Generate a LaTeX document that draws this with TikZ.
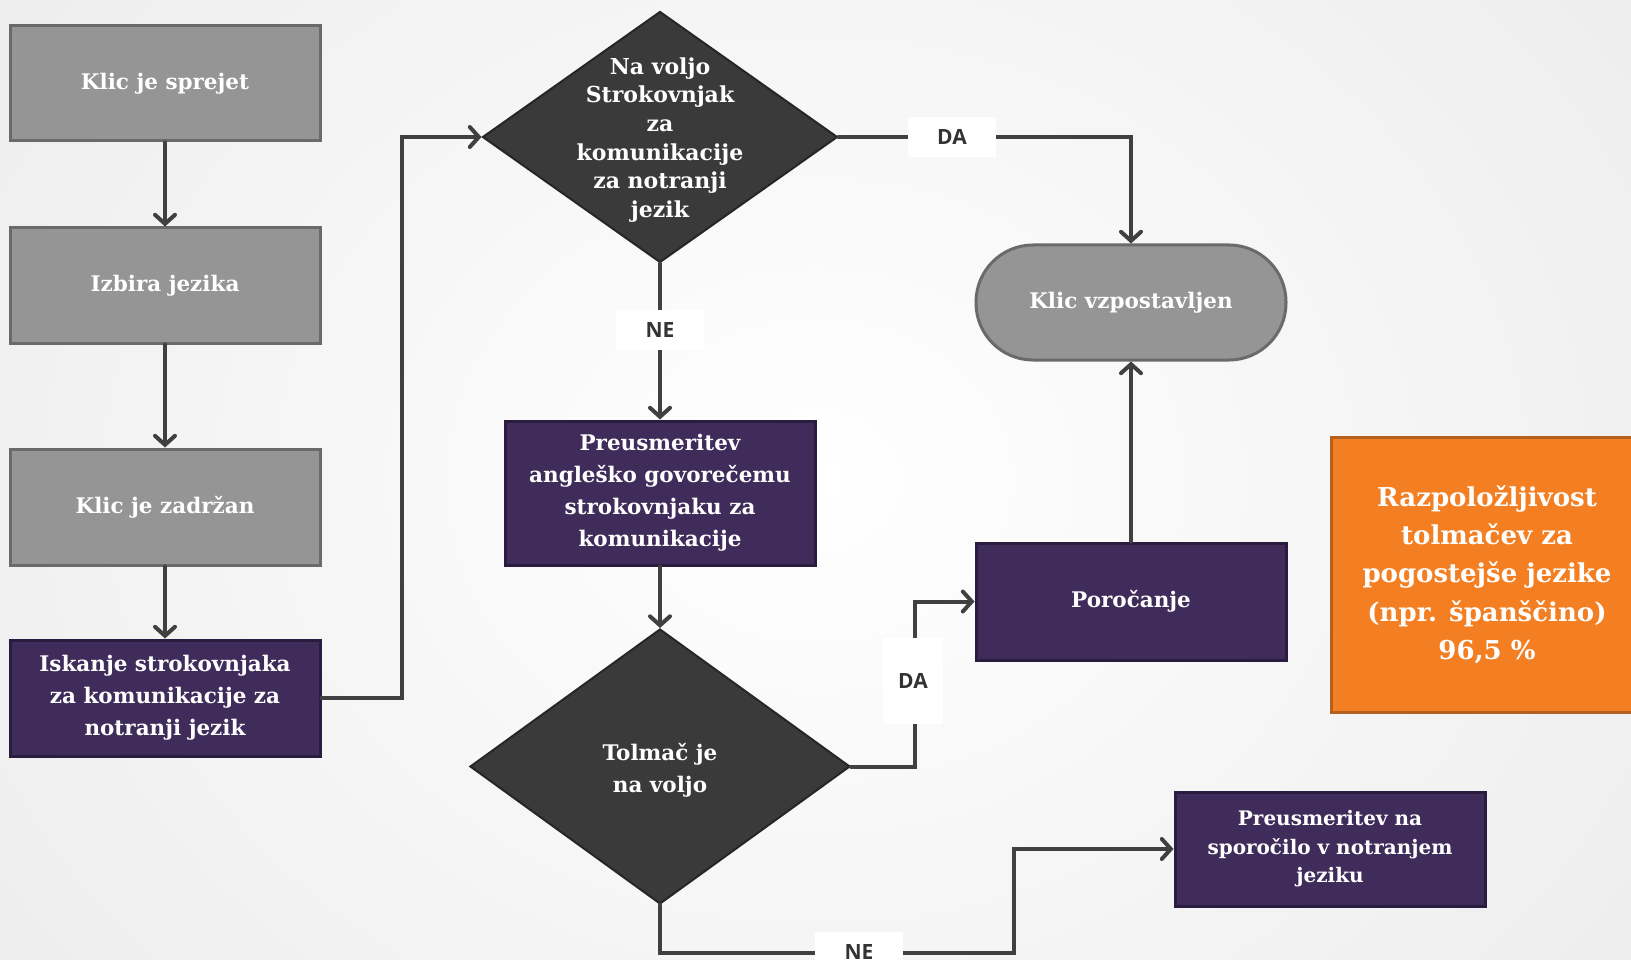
\documentclass[tikz,border=0pt]{standalone}
\usepackage{fontspec}
\setmainfont{DejaVu Serif}
\newfontfamily\labfont{Open Sans}
\usetikzlibrary{shapes.geometric,arrows.meta}
\definecolor{boxgray}{HTML}{959595}
\definecolor{boxgrayb}{HTML}{6A6A6A}
\definecolor{purp}{HTML}{402C5A}
\definecolor{purpb}{HTML}{2A1C3E}
\definecolor{dia}{HTML}{3A3A3A}
\definecolor{diab}{HTML}{262626}
\definecolor{orng}{HTML}{F47F22}
\definecolor{orngb}{HTML}{B4601E}
\definecolor{conncol}{HTML}{404040}
\definecolor{labcol}{HTML}{333333}
\definecolor{bgouter}{HTML}{E8E8E8}
\begin{document}
\begin{tikzpicture}[x=1pt,y=-1pt,
  gbox/.style={draw=boxgrayb,fill=boxgray,line width=3pt,minimum width=310pt,inner sep=0pt,text=white,align=center,font=\fontsize{21.5}{32}\selectfont\bfseries},
  pbox/.style={draw=purpb,fill=purp,line width=3pt,minimum width=310pt,inner sep=0pt,text=white,align=center,font=\fontsize{21.5}{32}\selectfont\bfseries},
  dbox/.style={diamond,draw=diab,fill=dia,line width=2pt,inner sep=0pt},
  dtext/.style={text=white,align=center,inner sep=0pt},
  conn/.style={draw=conncol,line width=4pt,line cap=round,line join=miter},
  tip/.style={-{Straight Barb[length=9pt,width=20pt,line cap=round]}},
  lab/.style={fill=white,text=labcol,font=\labfont\fontsize{21}{24}\selectfont\bfseries,minimum width=88pt,minimum height=40pt,inner sep=0pt}
]
\useasboundingbox (0,0) rectangle (1631,960);
\shade[inner color=white,outer color=bgouter] (-500,-600) rectangle (2131,1560);

% left column
\node[gbox,minimum height=115pt] (b1) at (165,83.5) {Klic je sprejet};
\node[gbox,minimum height=115pt] (b2) at (165,285.5) {Izbira jezika};
\node[gbox,minimum height=116pt] (b3) at (165,507) {Klic je zadržan};
\node[pbox,minimum height=116pt] (b4) at (165,698) {Iskanje strokovnjaka\\za komunikacije za\\notranji jezik};

% diamonds
\node[dbox,minimum width=355pt,minimum height=251pt] (d1) at (660,137) {};
\node[dtext,font=\fontsize{22}{28.7}\selectfont\bfseries] (d1t) at (660,140) {Na voljo\\Strokovnjak\\za\\komunikacije\\za notranji\\jezik};
\node[dbox,minimum width=380pt,minimum height=275pt] (d2) at (660,766.5) {};
\node[dtext,font=\fontsize{21.5}{32}\selectfont\bfseries] (d2t) at (660,770) {Tolmač je\\na voljo};

% middle / right boxes
\node[pbox,minimum height=144pt] (b5) at (660,493) {Preusmeritev\\angleško govorečemu\\strokovnjaku za\\komunikacije};
\node[gbox,minimum height=115pt,rounded corners=57pt] (term) at (1131,302.5) {Klic vzpostavljen};
\node[pbox,minimum height=117pt] (poro) at (1131,601.5) {Poročanje};
\node[pbox,minimum height=114pt,font=\fontsize{20}{28.5}\selectfont\bfseries] (b7) at (1330,849) {Preusmeritev na\\sporočilo v notranjem\\jeziku};
\node[draw=orngb,fill=orng,line width=3pt,minimum width=312pt,minimum height=275pt,inner sep=0pt,text=white,align=center,font=\fontsize{26}{38.3}\selectfont\bfseries] (or) at (1487,574.5) {Razpoložljivost\\tolmačev za\\pogostejše jezike\\(npr. španščino)\\96,5 \%};

% connectors
\draw[conn,tip] (b1.south) -- (b2.north);
\draw[conn,tip] (b2.south) -- (b3.north);
\draw[conn,tip] (b3.south) -- (b4.north);
\draw[conn,tip] (b4.east) -- ++(80,0) |- (d1.west);
\draw[conn,tip] (d1.east) -| (term.north);
\draw[conn,tip] (d1.south) -- (b5.north);
\draw[conn,tip] (b5.south) -- (d2.north);
\draw[conn,tip] (d2.east) -- ++(64,0) |- (poro.west);
\coordinate (nek) at (1014,953);
\draw[conn,tip] (d2.south) |- (nek) |- (b7.west);
\draw[conn,tip] (poro.north) -- (term.south);

% labels
\node[lab] (da1) at (952,137) {DA};
\node[lab] (ne1) at (660,330) {NE};
\node[lab,minimum width=60pt,minimum height=86pt] (da2) at (913,681) {DA};
\node[lab] (ne2) at (859,952) {NE};
\end{tikzpicture}
\end{document}
